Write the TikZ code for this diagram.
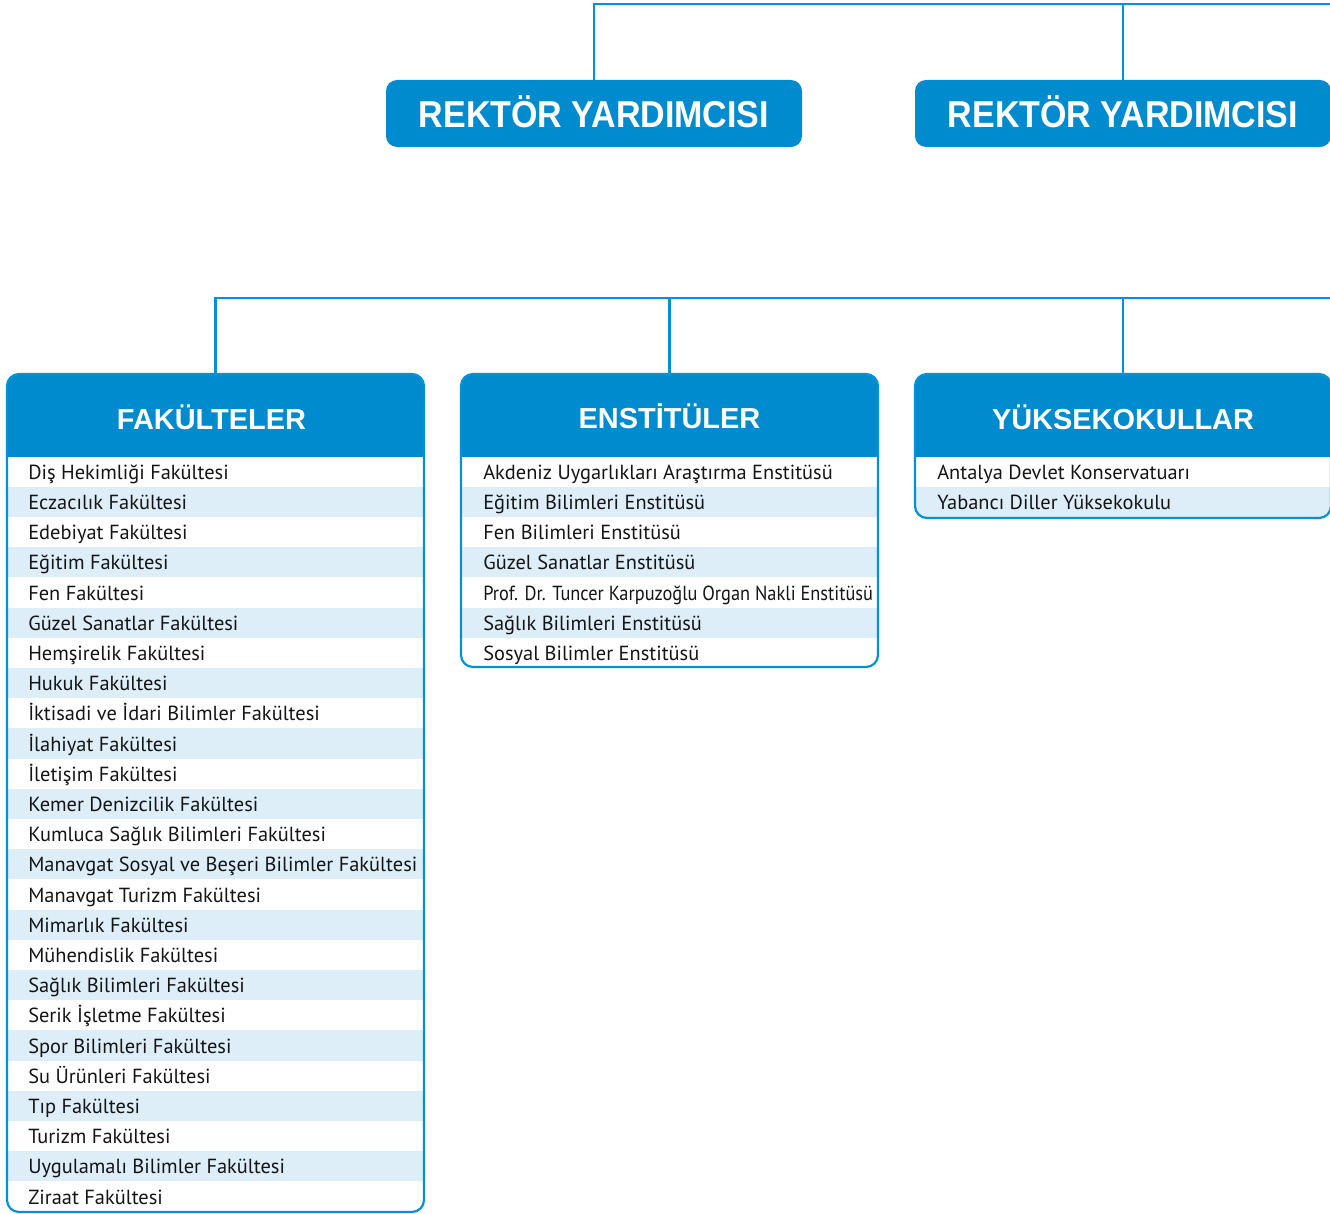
\documentclass[tikz,border=0pt]{standalone}
\usepackage{fontspec}
\setmainfont{PT Sans}
\newfontfamily\hfont{Liberation Sans}
\definecolor{cblue}{RGB}{0,139,207}
\definecolor{cline}{RGB}{0,146,212}
\definecolor{crow}{RGB}{222,238,249}
\definecolor{ctext}{RGB}{20,20,20}
\tikzset{
  conn/.style={draw=cline, line width=2.4*0.75pt},
  rvbox/.style={fill=cblue, rounded corners=11*0.75pt, minimum width=416*0.75pt,
    minimum height=67*0.75pt, inner sep=0pt},
  rvtext/.style={anchor=base, text=white, inner sep=0pt, font=\hfont\bfseries\fontsize{25.5pt}{26pt}\selectfont},
  hdbox/.style={minimum width=417*0.75pt, minimum height=82*0.75pt, inner sep=0pt},
  hdtext/.style={anchor=base, text=white, inner sep=0pt, font=\hfont\bfseries\fontsize{21.7pt}{22pt}\selectfont},
  rowtext/.style={anchor=base west, inner sep=0pt, text=ctext, font=\fontsize{15.3pt}{16pt}\selectfont},
  border/.style={draw=cline, line width=2.2*0.75pt, rounded corners=12*0.75pt},
  boxclip/.style={rounded corners=12*0.75pt}
}
\begin{document}
\begin{tikzpicture}[x=0.75pt,y=-0.75pt]
\useasboundingbox (0,0) rectangle (1330,1213);
% free ends of the two bus lines
\coordinate (topR) at (1330,4);
\coordinate (midR) at (1330,298);
% vice rectors
\node[rvbox] (rv1) at (594,113.5) {};
\node[rvtext] (rv1t) at (594,127) {\scalebox{1}[1.1]{REKTÖR YARDIMCISI}};
\node[rvbox] (rv2) at (1123,113.5) {};
\node[rvtext] (rv2t) at (1123,127) {\scalebox{1}[1.1]{REKTÖR YARDIMCISI}};
\draw[conn] (rv1.north) |- (topR);
\draw[conn] (rv2.north) -- (rv2.north |- topR);

% ---------- FAKÜLTELER ----------
\begin{scope}
  \clip[boxclip] (7,374) rectangle (424,1212);
  \fill[cblue] (7,374) rectangle (424,456.5);
  \foreach \t [count=\i] in {Diş Hekimliği Fakültesi,Eczacılık Fakültesi,Edebiyat Fakültesi,Eğitim Fakültesi,Fen Fakültesi,Güzel Sanatlar Fakültesi,Hemşirelik Fakültesi,Hukuk Fakültesi,İktisadi ve İdari Bilimler Fakültesi,İlahiyat Fakültesi,İletişim Fakültesi,Kemer Denizcilik Fakültesi,Kumluca Sağlık Bilimleri Fakültesi,Manavgat Sosyal ve Beşeri Bilimler Fakültesi,Manavgat Turizm Fakültesi,Mimarlık Fakültesi,Mühendislik Fakültesi,Sağlık Bilimleri Fakültesi,Serik İşletme Fakültesi,Spor Bilimleri Fakültesi,Su Ürünleri Fakültesi,Tıp Fakültesi,Turizm Fakültesi,Uygulamalı Bilimler Fakültesi,Ziraat Fakültesi}{
    \pgfmathsetmacro\ya{456.5+(\i-1)*30.2}
    \ifodd\i\relax\else\fill[crow] (7,\ya) rectangle (424,\ya+30.2);\fi
    \node[rowtext] (fak-\i) at (28,\ya+22.8) {\t};
  }
\end{scope}
\draw[border] (7,374) rectangle (424,1212);
\node[hdbox] (fakhd) at (215.5,415) {};
\node[hdtext] (fakt) at (211.5,429) {FAKÜLTELER};

% ---------- ENSTİTÜLER ----------
\begin{scope}
  \clip[boxclip] (461,374) rectangle (878,667);
  \fill[cblue] (461,374) rectangle (878,456.5);
  \foreach \t [count=\i] in {Akdeniz Uygarlıkları Araştırma Enstitüsü,Eğitim Bilimleri Enstitüsü,Fen Bilimleri Enstitüsü,Güzel Sanatlar Enstitüsü,{\scalebox{0.90}[1]{Prof. Dr. Tuncer Karpuzoğlu Organ Nakli Enstitüsü}},Sağlık Bilimleri Enstitüsü,Sosyal Bilimler Enstitüsü}{
    \pgfmathsetmacro\ya{456.5+(\i-1)*30.2}
    \ifodd\i\relax\else\fill[crow] (461,\ya) rectangle (878,\ya+30.2);\fi
    \node[rowtext] (ens-\i) at (483,\ya+22.8) {\t};
  }
\end{scope}
\draw[border] (461,374) rectangle (878,667);
\node[hdbox] (enshd) at (669.5,415) {};
\node[hdtext] (enst) at (669.5,428) {ENSTİTÜLER};

% ---------- YÜKSEKOKULLAR ----------
\begin{scope}
  \clip[boxclip] (915,374) rectangle (1331,518);
  \fill[cblue] (915,374) rectangle (1331,456.5);
  \foreach \t [count=\i] in {Antalya Devlet Konservatuarı,Yabancı Diller Yüksekokulu}{
    \pgfmathsetmacro\ya{456.5+(\i-1)*30.2}
    \ifodd\i\relax\else\fill[crow] (915,\ya) rectangle (1331,\ya+30.2);\fi
    \node[rowtext] (yuk-\i) at (937,\ya+22.8) {\t};
  }
\end{scope}
\draw[border] (915,374) rectangle (1331,518);
\node[hdbox] (yukhd) at (1123,415) {};
\node[hdtext] (yukt) at (1123,429) {YÜKSEKOKULLAR};

% second-level connectors
\draw[conn] (fakhd.north) |- (midR);
\draw[conn] (enshd.north) -- (enshd.north |- midR);
\draw[conn] (yukhd.north) -- (yukhd.north |- midR);
\end{tikzpicture}
\end{document}
